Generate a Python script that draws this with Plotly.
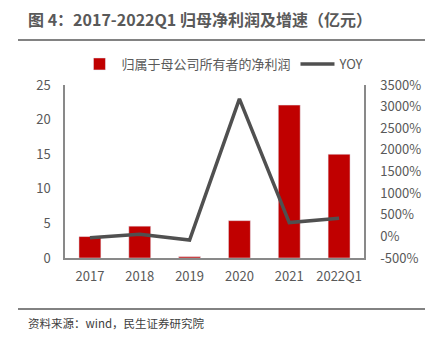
import plotly.graph_objects as go

categories = ["2017", "2018", "2019", "2020", "2021", "2022Q1"]
net_profit = [3.1, 4.6, 0.2, 5.4, 22.1, 15.0]
yoy = [-30, 50, -85, 3180, 320, 420]
yoy_ticks = list(range(-500, 3501, 500))
yoy_tick_labels = [f"{v}%" for v in yoy_ticks]

FONT = "Noto Sans CJK SC"
W, H = 432, 341
L, R, T, B = 65, 68, 85, 83

fig = go.Figure()
fig.add_trace(go.Bar(x=categories, y=net_profit, name="归属于母公司所有者的净利润",
                     marker_color="#C00000", width=0.44, yaxis="y"))
fig.add_trace(go.Scatter(x=categories, y=yoy, name="YOY", mode="lines",
                         line=dict(color="#505050", width=3.5), yaxis="y2"))

def px(xp):
    return (xp - L) / (W - L - R)

def py(yp):
    return (H - B - yp) / (H - T - B)

fig.update_layout(
    width=W, height=H,
    margin=dict(l=L, r=R, t=T, b=B),
    paper_bgcolor="white", plot_bgcolor="white",
    font=dict(family=FONT, size=13, color="#595959"),
    xaxis=dict(showline=True, linecolor="#898989", linewidth=1.5, ticks="",
               ticklabelstandoff=6,
               tickfont=dict(size=13, color="#595959"), showgrid=False),
    yaxis=dict(range=[0, 25], tickvals=[0, 5, 10, 15, 20, 25], showline=True,
               linecolor="#898989", linewidth=1.5, showgrid=False, zeroline=False,
               ticks="", ticklabelstandoff=10, tickfont=dict(size=13, color="#595959")),
    yaxis2=dict(range=[-500, 3500], tickmode="array", tickvals=yoy_ticks,
                ticktext=yoy_tick_labels,
                overlaying="y", side="right", showline=True,
                linecolor="#898989", linewidth=1.5, showgrid=False, zeroline=False,
                ticks="", ticklabelstandoff=12, tickfont=dict(size=13, color="#595959")),
    legend=dict(orientation="h", x=0.53, xanchor="center", y=py(64), yanchor="middle",
                font=dict(size=13, color="#595959"), itemwidth=34,
                bgcolor="rgba(0,0,0,0)"),
    showlegend=True,
)

fig.add_annotation(text="<b>图 4：2017-2022Q1 归母净利润及增速（亿元）</b>",
                   xref="paper", yref="paper", x=px(26), y=py(19),
                   xanchor="left", yanchor="middle", showarrow=False,
                   font=dict(family=FONT, size=16, color="#595959"))
fig.add_annotation(text="资料来源：wind，民生证券研究院",
                   xref="paper", yref="paper", x=px(26), y=py(323),
                   xanchor="left", yanchor="middle", showarrow=False,
                   font=dict(family=FONT, size=11.5, color="#404040"))
fig.add_shape(type="line", xref="paper", yref="paper", x0=px(18), x1=px(425),
              y0=py(40), y1=py(40), line=dict(color="#595959", width=1.5))
fig.add_shape(type="line", xref="paper", yref="paper", x0=px(18), x1=px(425),
              y0=py(309), y1=py(309), line=dict(color="#595959", width=1.5))

fig.write_html("out.html")
